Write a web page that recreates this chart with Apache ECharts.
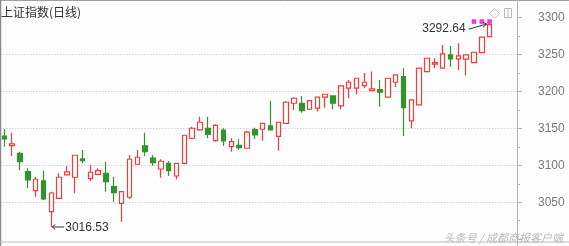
<!DOCTYPE html>
<html><head><meta charset="utf-8">
<script src="https://cdn.jsdelivr.net/npm/echarts@6/dist/echarts.min.js"></script>
<style>html,body{margin:0;padding:0;background:#fdfdfd}#c{width:569px;height:246px}</style>
</head><body><div id="c"></div><script>
// Shanghai Composite daily candles: [open, close, low, high]
const openV  = [3139.8,3126.7,3116.4,3091.5,3065.7,3078.9,3037.3,3055.4,3087.0,3083.9,3108.7,3082.0,3087.9,3089.3,3071.1,3048.6,3056.8,3101.5,3126.3,3110.0,3095.1,3102.8,3085.6,3102.8,3136.7,3148.0,3150.3,3133.5,3147.6,3125.3,3127.2,3123.2,3148.4,3148.9,3153.4,3139.4,3157.0,3184.1,3184.1,3176.0,3177.4,3192.3,3194.0,3180.5,3204.5,3204.5,3208.0,3201.2,3202.6,3192.3,3212.6,3220.2,3160.2,3181.8,3227.0,3237.0,3231.6,3249.6,3244.2,3243.8,3239.2,3252.7,3274.4];
const closeV = [3135.8,3129.0,3105.0,3080.2,3081.2,3054.5,3062.6,3083.9,3091.1,3113.7,3106.4,3090.7,3092.8,3077.9,3063.0,3064.4,3108.3,3111.0,3118.6,3103.7,3105.6,3092.8,3102.8,3140.8,3150.3,3158.4,3142.1,3154.3,3133.1,3132.1,3124.0,3144.9,3141.2,3157.0,3148.0,3158.4,3185.5,3190.9,3174.1,3187.7,3192.3,3196.3,3184.1,3207.6,3212.6,3218.0,3212.6,3203.5,3199.0,3218.0,3222.5,3178.2,3188.6,3231.6,3245.1,3239.2,3251.0,3244.2,3248.2,3249.6,3253.2,3273.6,3290.5];
const lowV   = [3125.3,3112.7,3093.8,3069.0,3057.6,3053.1,3016.53,3054.5,3087.0,3062.2,3102.8,3078.9,3087.0,3064.4,3050.8,3023.7,3054.5,3100.5,3112.7,3099.6,3083.3,3085.6,3081.2,3101.5,3135.8,3147.0,3136.7,3132.1,3126.7,3118.6,3120.9,3122.8,3135.8,3133.5,3147.5,3119.9,3156.8,3175.1,3171.4,3175.1,3172.8,3178.2,3176.0,3176.0,3190.9,3196.3,3204.5,3200.8,3179.5,3192.1,3206.0,3139.8,3150.3,3181.6,3226.8,3231.6,3231.4,3233.7,3229.3,3221.6,3239.0,3252.5,3274.2];
const highV  = [3149.3,3144.3,3118.6,3096.1,3084.7,3092.8,3064.4,3089.3,3099.2,3114.1,3120.9,3100.5,3096.1,3105.0,3084.7,3065.4,3114.1,3120.9,3144.3,3114.1,3108.3,3106.0,3103.0,3141.2,3152.4,3166.0,3166.0,3155.7,3150.3,3136.7,3135.4,3147.0,3151.1,3157.2,3187.3,3158.6,3187.3,3192.3,3194.0,3187.9,3192.5,3196.5,3194.2,3207.8,3215.7,3218.2,3225.0,3227.0,3215.7,3218.2,3222.7,3231.6,3188.8,3231.8,3245.3,3245.1,3263.1,3261.8,3265.4,3250.5,3254.0,3274.4,3292.64];
const emptySlots = 3;                  // blank days to the right of the last candle
const yTicks = {min: 3000, max: 3300, step: 50};
const signalIdx = [60, 61, 62];        // magenta signal marks
const signalValue = 3294.7;
const maxLabel = '3292.64', minLabel = '3016.53';
const maxIdx = 62, minIdx = 6;
const titleText = '上证指数(日线)';
const watermark = '头条号 / 成都商报客户端';

const categories = [];
for (let i = 0; i < openV.length + emptySlots; i++) categories.push('d' + (i + 1));
const candles = openV.map((o, i) => [o, closeV[i], lowV[i], highV[i]]);

const RED = '#f03c3c', GREEN = '#32942f';
const chart = echarts.init(document.getElementById('c'));
chart.setOption({
  animation: false,
  backgroundColor: '#fdfdfd',
  title: {text: titleText, left: 1, top: 6, padding: 0,
    textStyle: {fontSize: 12, fontWeight: 'normal', color: '#333', fontFamily: 'Noto Sans CJK SC'}},
  grid: {left: 0.4, right: 52, top: 17.7, bottom: 6.8},
  xAxis: {type: 'category', data: categories, boundaryGap: true,
    axisLine: {show: false}, axisTick: {show: false}, axisLabel: {show: false}, splitLine: {show: false}},
  yAxis: {type: 'value', position: 'right', min: yTicks.min, max: yTicks.max, interval: yTicks.step, scale: true,
    axisLine: {show: true, lineStyle: {color: '#b4b4b4'}},
    axisTick: {show: true, length: 5, lineStyle: {color: '#b4b4b4'}},
    minorTick: {show: true, splitNumber: 2, length: 3, lineStyle: {color: '#b4b4b4'}},
    axisLabel: {color: '#7a7a7a', fontSize: 12, fontFamily: 'Liberation Sans', margin: 21, showMinLabel: false,
      formatter: v => String(v)},
    splitLine: {show: true, lineStyle: {type: [1, 2], width: 1,
      color: ['rgba(0,0,0,0)', '#bdbdbd', '#bdbdbd', '#bdbdbd', '#bdbdbd', '#bdbdbd', 'rgba(0,0,0,0)']}}},
  series: [{
    type: 'candlestick', data: candles, barWidth: 5,
    itemStyle: {color: '#ffffff', color0: GREEN, borderColor: RED, borderColor0: GREEN, borderWidth: 1.2}
  }, {
    type: 'scatter', symbol: 'rect', symbolSize: 4, silent: true,
    data: signalIdx.map(i => [i, signalValue]),
    itemStyle: {color: '#ff00ff', borderColor: '#c000c0', borderWidth: 0.5}
  }]
});

const pMax = chart.convertToPixel({seriesIndex: 0}, [maxIdx, highV[maxIdx]]);
const pMin = chart.convertToPixel({seriesIndex: 0}, [minIdx, lowV[minIdx]]);
const lineStyle = {stroke: '#333', lineWidth: 1};
chart.setOption({graphic: [
  // frame
  {type: 'line', shape: {x1: 0, y1: 0.5, x2: 569, y2: 0.5}, style: {stroke: '#a0a0a0', lineWidth: 1}},
  {type: 'line', shape: {x1: 0.5, y1: 0, x2: 0.5, y2: 246}, style: {stroke: '#8a8a8a', lineWidth: 1.5}},
  {type: 'line', shape: {x1: 0, y1: 242, x2: 569, y2: 242}, style: {stroke: '#c0c0c0', lineWidth: 1}},
  {type: 'line', shape: {x1: 517.5, y1: 0, x2: 517.5, y2: 246}, style: {stroke: '#b4b4b4', lineWidth: 1}},
  // icons
  {type: 'polygon', shape: {points: [[494.5, 8.5], [499.5, 13.5], [494.5, 18.5], [489.5, 13.5]]},
    style: {fill: 'none', stroke: '#c8c8c8', lineWidth: 1}},
  {type: 'rect', shape: {x: 504.5, y: 8.5, width: 7, height: 9}, style: {fill: 'none', stroke: '#b8b8b8', lineWidth: 1}},
  {type: 'line', shape: {x1: 508, y1: 8.5, x2: 508, y2: 17.5}, style: {stroke: '#b8b8b8', lineWidth: 1}},
  // max annotation
  {type: 'text', x: pMax[0] - 24, y: pMax[1] + 6,
    style: {text: maxLabel, align: 'right', verticalAlign: 'middle', fontSize: 12, fontFamily: 'Liberation Sans', fill: '#333'}},
  {type: 'line', shape: {x1: pMax[0] - 21, y1: pMax[1] + 6, x2: pMax[0] - 3, y2: pMax[1] + 1}, style: lineStyle},
  {type: 'polyline', shape: {points: [[pMax[0] - 7, pMax[1] - 1], [pMax[0] - 3, pMax[1] + 1], [pMax[0] - 6.5, pMax[1] + 4]]}, style: {stroke: '#333', lineWidth: 1, fill: 'none'}},
  // min annotation
  {type: 'line', shape: {x1: pMin[0] + 13, y1: pMin[1], x2: pMin[0] + 1, y2: pMin[1]}, style: lineStyle},
  {type: 'polyline', shape: {points: [[pMin[0] + 4, pMin[1] - 2.5], [pMin[0] + 1, pMin[1]], [pMin[0] + 4, pMin[1] + 2.5]]}, style: {stroke: '#333', lineWidth: 1, fill: 'none'}},
  {type: 'text', x: pMin[0] + 14, y: pMin[1] + 0.5,
    style: {text: minLabel, align: 'left', verticalAlign: 'middle', fontSize: 12, fontFamily: 'Liberation Sans', fill: '#333'}},
  // watermark
  {type: 'text', x: 563, y: 237.5,
    style: {text: watermark, align: 'right', verticalAlign: 'middle', fontSize: 11, fontStyle: 'italic', fontFamily: 'Noto Sans CJK SC', fill: 'rgba(175,175,175,0.85)'}}
]});
</script></body></html>
